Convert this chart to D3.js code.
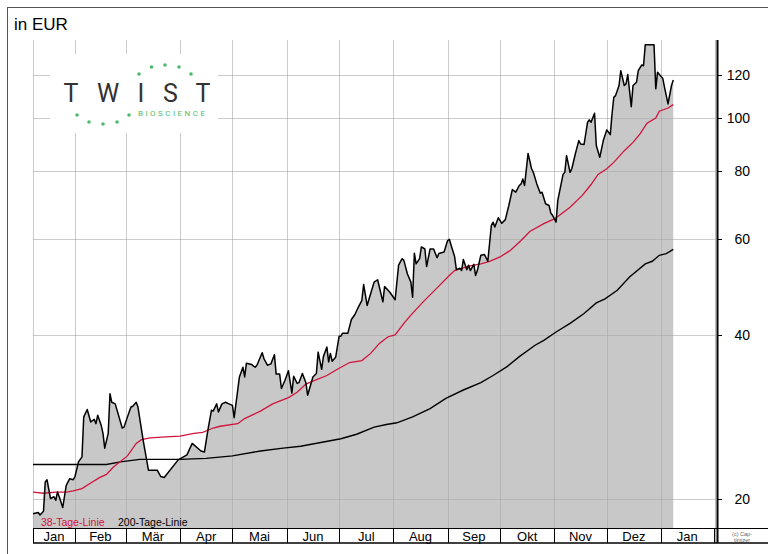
<!DOCTYPE html>
<html>
<head>
<meta charset="utf-8">
<script src="https://cdn.jsdelivr.net/npm/d3@7"></script>
<style>
  body { margin: 0; background: #fff; }
  svg { display: block; font-family: "Liberation Sans", Arial, sans-serif; }
</style>
</head>
<body>
<div id="chart"></div>
<script>
// Kurs in EUR
const price = [
  ["2020-01-08",18.8],["2020-01-11",18.9],["2020-01-12",18.7],["2020-01-14",19.0],["2020-01-15",21.5],["2020-01-16",21.7],
  ["2020-01-18",20.05],["2020-01-20",20.2],["2020-01-21",19.9],["2020-01-22",20.6],["2020-01-23",20.2],["2020-01-25",19.3],
  ["2020-01-27",21.2],["2020-01-29",21.8],["2020-01-31",21.7],["2020-02-01",22.0],["2020-02-03",23.4],["2020-02-05",23.9],
  ["2020-02-06",28.3],["2020-02-08",29.2],["2020-02-10",27.7],["2020-02-12",28.0],["2020-02-13",27.5],["2020-02-14",28.5],
  ["2020-02-16",27.3],["2020-02-17",26.4],["2020-02-18",24.8],["2020-02-20",26.4],["2020-02-21",31.2],["2020-02-22",30.1],
  ["2020-02-24",29.9],["2020-02-28",27.0],["2020-02-29",27.1],["2020-03-02",28.3],["2020-03-04",29.5],["2020-03-05",29.6],
  ["2020-03-07",30.1],["2020-03-08",29.5],["2020-03-11",25.6],["2020-03-14",22.6],["2020-03-19",22.6],["2020-03-21",22.0],
  ["2020-03-23",21.9],["2020-03-31",23.6],["2020-04-05",24.1],["2020-04-08",25.3],["2020-04-13",24.5],["2020-04-15",24.4],
  ["2020-04-17",26.8],["2020-04-19",29.1],["2020-04-20",29.0],["2020-04-22",29.9],["2020-04-23",28.9],["2020-04-25",29.9],
  ["2020-04-27",30.1],["2020-04-29",29.9],["2020-05-01",29.7],["2020-05-02",28.2],["2020-05-05",33.5],["2020-05-07",34.9],
  ["2020-05-08",33.5],["2020-05-09",35.5],["2020-05-12",35.3],["2020-05-14",34.9],["2020-05-15",35.2],["2020-05-18",37.1],
  ["2020-05-19",36.2],["2020-05-21",35.2],["2020-05-23",35.4],["2020-05-25",36.8],["2020-05-26",33.9],["2020-05-28",33.9],
  ["2020-05-29",31.9],["2020-05-31",33.0],["2020-06-02",34.4],["2020-06-04",31.3],["2020-06-05",33.6],["2020-06-07",32.6],
  ["2020-06-08",32.7],["2020-06-10",34.0],["2020-06-12",32.7],["2020-06-13",31.0],["2020-06-16",33.5],["2020-06-18",34.0],
  ["2020-06-19",37.2],["2020-06-21",34.6],["2020-06-22",36.5],["2020-06-24",38.0],["2020-06-25",35.7],["2020-06-26",37.0],
  ["2020-06-27",35.8],["2020-06-29",36.4],["2020-07-01",39.8],["2020-07-02",39.8],["2020-07-03",40.3],["2020-07-06",40.3],
  ["2020-07-08",42.7],["2020-07-10",43.6],["2020-07-12",45.0],["2020-07-14",46.3],["2020-07-15",49.5],["2020-07-17",45.3],
  ["2020-07-19",47.6],["2020-07-21",50.0],["2020-07-23",50.5],["2020-07-26",46.0],["2020-07-27",49.1],["2020-07-30",47.9],
  ["2020-08-02",46.4],["2020-08-04",53.7],["2020-08-06",55.2],["2020-08-07",54.8],["2020-08-09",51.8],["2020-08-11",50.0],
  ["2020-08-12",46.9],["2020-08-13",56.5],["2020-08-14",54.0],["2020-08-16",55.2],["2020-08-17",58.0],["2020-08-19",57.5],
  ["2020-08-20",53.4],["2020-08-22",57.5],["2020-08-24",57.5],["2020-08-26",55.4],["2020-08-27",56.4],["2020-08-30",56.8],
  ["2020-09-01",59.6],["2020-09-02",59.9],["2020-09-03",58.4],["2020-09-05",55.7],["2020-09-06",52.7],["2020-09-08",53.0],
  ["2020-09-09",52.5],["2020-09-10",55.0],["2020-09-12",52.7],["2020-09-13",53.7],["2020-09-14",52.5],["2020-09-16",53.9],
  ["2020-09-17",51.4],["2020-09-18",52.5],["2020-09-20",56.0],["2020-09-22",56.2],["2020-09-24",54.6],["2020-09-26",63.5],
  ["2020-09-27",64.4],["2020-09-28",63.1],["2020-09-30",65.6],["2020-10-02",64.1],["2020-10-04",65.1],["2020-10-06",69.1],
  ["2020-10-08",73.9],["2020-10-10",73.1],["2020-10-12",75.2],["2020-10-13",75.7],["2020-10-14",77.3],["2020-10-15",75.2],
  ["2020-10-17",86.1],["2020-10-19",80.7],["2020-10-20",79.5],["2020-10-22",75.7],["2020-10-24",72.8],["2020-10-25",73.1],
  ["2020-10-27",69.6],["2020-10-29",69.1],["2020-10-30",66.9],["2020-10-31",66.3],["2020-11-02",64.4],["2020-11-03",70.6],
  ["2020-11-06",78.8],["2020-11-07",79.5],["2020-11-08",85.3],["2020-11-10",79.5],["2020-11-11",80.7],["2020-11-13",85.9],
  ["2020-11-15",90.9],["2020-11-16",89.6],["2020-11-18",89.4],["2020-11-20",98.2],["2020-11-21",99.2],["2020-11-22",98.2],
  ["2020-11-24",102.0],["2020-11-25",89.0],["2020-11-27",84.7],["2020-11-29",90.9],["2020-12-01",95.1],["2020-12-03",93.2],
  ["2020-12-04",101.7],["2020-12-05",109.1],["2020-12-06",109.9],["2020-12-08",114.7],["2020-12-09",122.1],["2020-12-11",114.7],
  ["2020-12-12",115.5],["2020-12-13",120.1],["2020-12-15",104.9],["2020-12-16",114.7],["2020-12-18",116.3],["2020-12-19",122.1],
  ["2020-12-21",125.1],["2020-12-22",124.7],["2020-12-23",136.3],["2020-12-28",136.3],["2020-12-29",113.1],["2020-12-30",121.3],
  ["2021-01-02",118.2],["2021-01-03",113.8],["2021-01-05",106.1],["2021-01-07",114.7],["2021-01-08",117.4]
];

const ma38 = [
  ["2020-01-08",20.6],["2020-01-14",20.5],["2020-01-21",20.6],["2020-01-27",20.6],["2020-01-31",20.7],["2020-02-05",20.9],
  ["2020-02-10",21.4],["2020-02-15",21.9],["2020-02-19",22.2],["2020-02-23",22.9],["2020-03-02",24.0],["2020-03-07",25.3],
  ["2020-03-10",25.7],["2020-03-15",25.9],["2020-03-24",26.0],["2020-04-01",26.1],["2020-04-09",26.4],["2020-04-14",26.5],
  ["2020-04-20",27.0],["2020-04-24",27.2],["2020-05-04",27.5],["2020-05-08",28.1],["2020-05-17",29.0],["2020-05-24",29.9],
  ["2020-06-02",30.7],["2020-06-07",31.4],["2020-06-12",32.5],["2020-06-16",32.9],["2020-06-24",33.7],["2020-06-30",34.6],
  ["2020-07-07",35.6],["2020-07-14",35.9],["2020-07-19",37.0],["2020-07-24",38.6],["2020-07-29",39.7],["2020-08-02",40.0],
  ["2020-08-07",42.0],["2020-08-11",43.5],["2020-08-18",46.0],["2020-08-26",48.8],["2020-09-02",51.4],["2020-09-05",52.5],
  ["2020-09-13",53.5],["2020-09-20",54.0],["2020-09-25",54.6],["2020-10-01",55.6],["2020-10-07",57.2],["2020-10-13",59.6],
  ["2020-10-18",61.9],["2020-10-26",64.0],["2020-11-01",65.3],["2020-11-04",66.3],["2020-11-10",68.6],["2020-11-17",72.1],
  ["2020-11-22",75.5],["2020-11-26",78.8],["2020-12-01",80.7],["2020-12-05",82.9],["2020-12-11",87.1],["2020-12-16",90.2],
  ["2020-12-20",93.5],["2020-12-24",97.8],["2020-12-29",100.0],["2020-12-31",102.9],["2021-01-05",104.3],["2021-01-08",105.8]
];

const ma200 = [
  ["2020-01-08",23.15],["2020-02-19",23.15],["2020-02-27",23.4],["2020-03-09",23.65],["2020-04-01",23.65],["2020-04-16",23.75],
  ["2020-05-01",24.0],["2020-05-17",24.5],["2020-05-30",24.8],["2020-06-09",25.0],["2020-07-02",25.8],["2020-07-11",26.3],
  ["2020-07-21",27.1],["2020-07-28",27.4],["2020-08-03",27.6],["2020-08-12",28.3],["2020-08-22",29.3],["2020-08-31",30.6],
  ["2020-09-10",31.7],["2020-09-20",32.7],["2020-09-27",33.7],["2020-10-05",35.0],["2020-10-12",36.5],["2020-10-21",38.3],
  ["2020-10-26",39.1],["2020-11-02",40.5],["2020-11-10",42.0],["2020-11-18",43.8],["2020-11-25",45.8],["2020-11-30",46.6],
  ["2020-12-07",48.3],["2020-12-14",51.1],["2020-12-23",54.0],["2020-12-27",54.6],["2020-12-31",56.0],["2021-01-04",56.4],
  ["2021-01-08",57.4]
];

const monthNames = ["Jan", "Feb", "Mär", "Apr", "Mai", "Jun", "Jul", "Aug", "Sep", "Okt", "Nov", "Dez", "Jan"];
const yTicks = [20, 40, 60, 80, 100, 120];

const width = 768, height = 554;
const plotLeft = 33, plotRight = 713.5, plotTop = 40, plotBottom = 528;

const parse = d3.timeParse("%Y-%m-%d");
const start = parse("2020-01-08"), end = parse("2021-01-31");

const x = d3.scaleTime().domain([start, end]).range([plotLeft, plotRight]);
const y = d3.scaleLog().domain([17.7, 139]).range([plotBottom, plotTop]);

const svg = d3.select('#chart')
    .append('svg')
    .attr('width', width)
    .attr('height', height);

// rahmen
svg.append('rect')
    .attr('x', 7.5).attr('y', 7.5)
    .attr('width', width + 10).attr('height', height + 10)
    .style('fill', '#fff')
    .style('stroke', '#555');

svg.append('text')
    .attr('x', 14).attr('y', 30)
    .style('font-size', '17px')
    .text('in EUR');

// flaeche unter dem kurs
const area = d3.area()
    .x(d => x(parse(d[0])))
    .y0(plotBottom)
    .y1(d => y(d[1]));

svg.append('path')
    .datum(price)
    .attr('d', area)
    .style('fill', '#c8c8c8');

// gitter
const monthStarts = d3.timeMonth.range(parse("2020-02-01"), parse("2021-01-02"));
const grid = svg.append('g')
    .style('stroke', '#a8a8a8')
    .style('stroke-opacity', 0.6)
    .style('stroke-width', 1);

grid.selectAll('.vg')
    .data([start].concat(monthStarts))
    .join('line')
    .attr('x1', d => Math.round(x(d)) + 0.5)
    .attr('x2', d => Math.round(x(d)) + 0.5)
    .attr('y1', plotTop).attr('y2', plotBottom);

grid.selectAll('.hg')
    .data(yTicks)
    .join('line')
    .attr('x1', plotLeft).attr('x2', 715.5)
    .attr('y1', d => Math.round(y(d)) + 0.5)
    .attr('y2', d => Math.round(y(d)) + 0.5);

svg.append('line')
    .attr('x1', 715.5).attr('x2', 715.5)
    .attr('y1', plotTop).attr('y2', 543)
    .style('stroke', '#bbb');

// linien
const line = d3.line()
    .x(d => x(parse(d[0])))
    .y(d => y(d[1]));

svg.append('path')
    .datum(ma200)
    .attr('d', line)
    .style('fill', 'none')
    .style('stroke', '#000')
    .style('stroke-width', 1.4);

svg.append('path')
    .datum(ma38)
    .attr('d', line)
    .style('fill', 'none')
    .style('stroke', '#d0143c')
    .style('stroke-width', 1.3);

svg.append('path')
    .datum(price)
    .attr('d', line)
    .style('fill', 'none')
    .style('stroke', '#000')
    .style('stroke-width', 1.5)
    .style('stroke-linejoin', 'round');

// logo
const logo = svg.append('g');
logo.append('rect')
    .attr('x', 50).attr('y', 54)
    .attr('width', 168).attr('height', 79)
    .style('fill', '#fff');

const letters = [["T", 71], ["W", 108], ["I", 141], ["S", 170.5], ["T", 203]];
logo.selectAll('.lt')
    .data(letters)
    .join('text')
    .attr('x', d => d[1]).attr('y', 102)
    .attr('text-anchor', 'middle')
    .style('font-family', 'Roboto, "DejaVu Sans", sans-serif')
    .style('font-size', '25px')
    .style('fill', '#333')
    .text(d => d[0]);

logo.append('text')
    .attr('x', 138).attr('y', 116)
    .attr('textLength', 67)
    .attr('lengthAdjust', 'spacing')
    .style('font-family', 'Roboto, "DejaVu Sans", sans-serif')
    .style('font-size', '8px')
    .style('fill', '#4dbb6c')
    .text('BIOSCIENCE');

const dots = [[139, 74], [151.5, 67], [165, 65], [179, 67], [191, 74], [77, 115], [89, 122], [103, 124], [117, 122], [129, 115]];
logo.selectAll('circle')
    .data(dots)
    .join('circle')
    .attr('cx', d => d[0]).attr('cy', d => d[1])
    .attr('r', 1.8)
    .style('fill', '#4dbb6c');

// legende
svg.append('text')
    .attr('x', 41).attr('y', 526)
    .style('font-size', '10.5px')
    .style('fill', '#d0143c')
    .text('38-Tage-Linie');
svg.append('text')
    .attr('x', 118).attr('y', 526)
    .style('font-size', '10.5px')
    .style('fill', '#000')
    .text('200-Tage-Linie');

// monatsleiste unten
const band = svg.append('g').style('stroke', '#000');
band.append('line').attr('x1', plotLeft).attr('x2', width).attr('y1', 528.5).attr('y2', 528.5);
band.append('line').attr('x1', plotLeft).attr('x2', width).attr('y1', 543).attr('y2', 543).style('stroke-width', 1.5);

const edges = [start].concat(monthStarts, [end]);
band.selectAll('.sep')
    .data(edges)
    .join('line')
    .attr('x1', d => Math.round(x(d)) + 0.5)
    .attr('x2', d => Math.round(x(d)) + 0.5)
    .attr('y1', 529).attr('y2', 543);

svg.selectAll('.mlabel')
    .data(monthNames)
    .join('text')
    .attr('x', (d, i) => (x(edges[i]) + x(edges[i + 1])) / 2)
    .attr('y', 541)
    .attr('text-anchor', 'middle')
    .style('font-size', '13px')
    .text(d => d);

// rechte achse
const axis = svg.append('g');
axis.append('line')
    .attr('x1', 717.5).attr('x2', 717.5)
    .attr('y1', plotTop).attr('y2', 543)
    .style('stroke', '#000')
    .style('stroke-width', 2);

axis.selectAll('.tick')
    .data(yTicks)
    .join('line')
    .attr('x1', 718).attr('x2', 722)
    .attr('y1', d => Math.round(y(d)) + 0.5)
    .attr('y2', d => Math.round(y(d)) + 0.5)
    .style('stroke', '#000');

axis.selectAll('.lbl')
    .data(yTicks)
    .join('text')
    .attr('x', 750)
    .attr('y', d => y(d))
    .attr('dy', '0.36em')
    .attr('text-anchor', 'end')
    .style('font-size', '14px')
    .text(d => d);

// copyright
svg.append('text')
    .attr('x', 742).attr('y', 535.5)
    .attr('text-anchor', 'middle')
    .style('font-size', '5.5px')
    .style('fill', '#666')
    .text('(c) Cap-');
svg.append('text')
    .attr('x', 742).attr('y', 541.5)
    .attr('text-anchor', 'middle')
    .style('font-size', '5.5px')
    .style('fill', '#666')
    .text('timizer');
</script>
</body>
</html>
